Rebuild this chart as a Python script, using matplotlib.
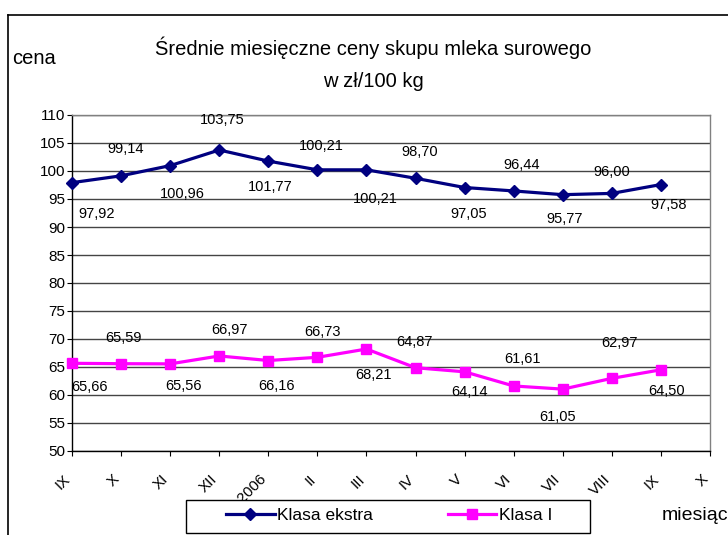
import numpy as np
import matplotlib
matplotlib.use('Agg')
import matplotlib.pyplot as plt
from matplotlib.lines import Line2D
from matplotlib.patches import Rectangle
from matplotlib.transforms import ScaledTranslation

plt.rcParams['font.family'] = ['Liberation Sans', 'DejaVu Sans']

# ---- data ----
months = ['IX', 'X', 'XI', 'XII', 'I 2006', 'II', 'III', 'IV', 'V', 'VI', 'VII', 'VIII', 'IX', 'X']
ekstra = [97.92, 99.14, 100.96, 103.75, 101.77, 100.21, 100.21, 98.70, 97.05, 96.44, 95.77, 96.00, 97.58]
klasa1 = [65.66, 65.59, 65.56, 66.97, 66.16, 66.73, 68.21, 64.87, 64.14, 61.61, 61.05, 62.97, 64.50]
series_names = ['Klasa ekstra', 'Klasa I']
title1 = 'Średnie miesięczne ceny skupu mleka surowego'
title2 = 'w zł/100 kg'
ylabel = 'cena'
xlabel = 'miesiąc'

# label offsets in pixels (dx right, dy down) – styling only
ekstra_off = [(25, 31), (5, -27), (12, 28), (3, -30), (2, 26), (4, -24), (9, 29),
              (4, -26), (4, 26), (8, -26), (2, 24), (0, -21), (8, 20)]
klasa1_off = [(17, 24), (2, -26), (13, 22), (10, -26), (8, 25), (5, -25), (7, 26),
              (-1, -26), (5, 20), (9, -27), (-5, 28), (8, -35), (6, 21)]

W, H = 728, 535
fig = plt.figure(figsize=(W / 100, H / 100), dpi=100)


def fx(px):
    return px / W


def fy(py):
    return 1 - py / H


ax = fig.add_axes([fx(72), fy(451), fx(710) - fx(72), fy(115) - fy(451)])
x = np.arange(len(ekstra))
ax.plot(x, ekstra, color='#000080', lw=2.3, marker='D', ms=6, label=series_names[0],
        clip_on=False, zorder=3)
ax.plot(x, klasa1, color='#FF00FF', lw=2.3, marker='s', ms=7.5, label=series_names[1],
        clip_on=False, zorder=3)

ax.set_xlim(0, len(months) - 1)
ax.set_ylim(50, 110)
ax.set_yticks(np.arange(50, 111, 5))
ax.set_xticks(np.arange(len(months)))
ax.set_xticklabels(months, rotation=45, ha='right', va='center', rotation_mode='anchor',
                   fontsize=11)
ax.tick_params(axis='x', direction='out', length=3.6, width=0.8, pad=15)
ax.tick_params(axis='y', direction='out', length=3.6, width=0.8, pad=1.5, labelsize=11)
shift = ScaledTranslation(-4 / 100, 0, fig.dpi_scale_trans)
for lab in ax.get_xticklabels():
    lab.set_transform(lab.get_transform() + shift)

ax.yaxis.grid(True, color='#444444', lw=1.0)
ax.set_axisbelow(True)
for s in ['top', 'right']:
    ax.spines[s].set_color('#808080')
    ax.spines[s].set_linewidth(1.0)
for s in ['left', 'bottom']:
    ax.spines[s].set_color('black')
    ax.spines[s].set_linewidth(1.0)


def fmt(v):
    return f'{v:.2f}'.replace('.', ',')


for vals, offs in ((ekstra, ekstra_off), (klasa1, klasa1_off)):
    for i, (v, (dx, dy)) in enumerate(zip(vals, offs)):
        ax.annotate(fmt(v), (i, v), xytext=(dx, -dy), textcoords='offset pixels',
                    ha='center', va='center', fontsize=10.5, annotation_clip=False)

# titles and axis names
fig.text(fx(373), fy(55), title1, ha='center', va='baseline', fontsize=14.5)
fig.text(fx(373), fy(87), title2, ha='center', va='baseline', fontsize=14.5)
fig.text(fx(12), fy(63.5), ylabel, ha='left', va='baseline', fontsize=14.5)
fig.text(fx(662), fy(520), xlabel, ha='left', va='baseline', fontsize=14)

# chart-area border
fig.add_artist(Line2D([fx(8), fx(8)], [fy(15), 0], color='black', lw=1.2,
                      transform=fig.transFigure))
fig.add_artist(Line2D([fx(8), 1], [fy(15), fy(15)], color='black', lw=1.2,
                      transform=fig.transFigure))

# legend box
fig.add_artist(Rectangle((fx(186), fy(533)), fx(590) - fx(186), fy(500) - fy(533),
                         facecolor='white', edgecolor='black', lw=1.0,
                         transform=fig.transFigure, zorder=3))
handles, labels = ax.get_legend_handles_labels()
leg = fig.legend(handles, labels, loc='center left', bbox_to_anchor=(fx(226), fy(515)),
                 frameon=False, ncol=2, fontsize=12.5, handlelength=2.8,
                 handletextpad=0.15, columnspacing=4.3, borderpad=0, borderaxespad=0)
leg.set_zorder(5)

fig.savefig('out.png', dpi=100)
